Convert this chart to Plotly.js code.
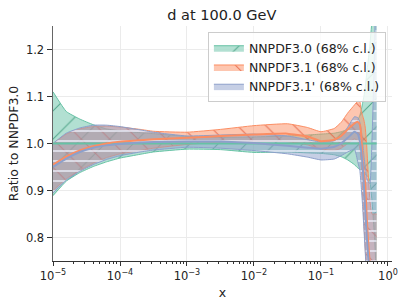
<!DOCTYPE html>
<html>
<head>
<meta charset="utf-8">
<script src="https://cdn.plot.ly/plotly-3.0.1.min.js"></script>
<style>html,body{margin:0;padding:0;background:#fff;}#chart{width:407px;height:306px;}</style>
</head>
<body>
<div id="chart"></div>
<script>
// x grid (momentum fraction)
const xGrid = [1e-5, 1.58e-5, 2.51e-5, 3.98e-5, 6.31e-5, 1e-4, 2e-4, 3.16e-4, 1e-3, 3.16e-3,
  1e-2, 3.16e-2, 6.31e-2, 0.1, 0.158, 0.2, 0.251, 0.316, 0.355, 0.38,
  0.398, 0.417, 0.437, 0.457, 0.479, 0.501, 0.537, 0.575, 0.631, 0.676];

// NNPDF3.0 (reference)
const nn30Central = [1,1,1,1,1,1,1,1,1,1, 1,1,1,1,1,1,1,1,1,1, 1,1,1,1,1,1,1,1,1,1];
const nn30Upper = [1.11, 1.068, 1.052, 1.040, 1.031, 1.027, 1.023, 1.021, 1.015, 1.013,
  1.014, 1.016, 1.018, 1.02, 1.022, 1.025, 1.03, 1.04, 1.05, 1.06,
  1.07, 1.085, 1.10, 1.12, 1.145, 1.17, 1.21, 1.26, 1.35, 1.45];
const nn30Lower = [0.889, 0.92, 0.938, 0.951, 0.961, 0.969, 0.977, 0.982, 0.988, 0.987,
  0.981, 0.982, 0.98, 0.979, 0.976, 0.972, 0.965, 0.955, 0.948, 0.945,
  0.942, 0.94, 0.937, 0.935, 0.932, 0.93, 0.92, 0.88, 0.8, 0.7];

// NNPDF3.1
const nn31Central = [0.955, 0.972, 0.985, 0.994, 1.0, 1.004, 1.007, 1.009, 1.012, 1.016,
  1.019, 1.021, 1.015, 1.005, 1.008, 1.016, 1.03, 1.043, 1.046, 1.04,
  1.02, 0.97, 0.935, 0.915, 0.85, 0.8, 0.74, 0.68, 0.6, 0.55];
const nn31Upper = [1.0, 1.02, 1.031, 1.036, 1.037, 1.035, 1.03, 1.026, 1.024, 1.03,
  1.038, 1.042, 1.034, 1.025, 1.032, 1.045, 1.065, 1.082, 1.09, 1.089,
  1.07, 1.06, 1.05, 1.035, 1.0, 0.95, 0.88, 0.85, 0.85, 0.85];
const nn31Lower = [0.9, 0.925, 0.943, 0.958, 0.97, 0.978, 0.985, 0.99, 0.998, 1.003,
  1.005, 1.004, 0.997, 0.988, 0.985, 0.99, 1.0, 1.01, 1.005, 0.99,
  0.96, 0.9, 0.83, 0.78, 0.72, 0.66, 0.6, 0.55, 0.5, 0.45];

// NNPDF3.1'
const nn31pCentral = [0.95, 0.968, 0.982, 0.991, 0.996, 0.999, 1.002, 1.003, 1.004, 1.004,
  1.001, 0.995, 0.991, 0.989, 0.993, 1.0, 1.012, 1.025, 1.02, 1.005,
  0.985, 0.955, 0.91, 0.86, 0.81, 0.77, 0.72, 0.68, 0.62, 0.58];
const nn31pUpper = [1.0, 1.022, 1.033, 1.039, 1.039, 1.036, 1.029, 1.024, 1.016, 1.018,
  1.02, 1.016, 1.008, 1.003, 1.006, 1.016, 1.035, 1.057, 1.055, 1.045,
  1.03, 1.005, 0.975, 0.95, 0.93, 0.92, 0.915, 1.0, 1.2, 1.5];
const nn31pLower = [0.895, 0.922, 0.941, 0.955, 0.966, 0.974, 0.982, 0.986, 0.992, 0.99,
  0.985, 0.978, 0.971, 0.965, 0.967, 0.974, 0.982, 0.988, 0.96, 0.943,
  0.91, 0.87, 0.82, 0.77, 0.72, 0.68, 0.63, 0.58, 0.53, 0.48];

const seriesNames = ['NNPDF3.0 (68% c.l.)', 'NNPDF3.1 (68% c.l.)', "NNPDF3.1' (68% c.l.)"];
const xTickVals = [1e-5, 1e-4, 1e-3, 1e-2, 1e-1, 1];
const xTickText = ['10<sup>−5</sup>', '10<sup>−4</sup>', '10<sup>−3</sup>', '10<sup>−2</sup>', '10<sup>−1</sup>', '10<sup>0</sup>'];
const yTickVals = [0.8, 0.9, 1.0, 1.1, 1.2];
const yTickText = ['0.8', '0.9', '1.0', '1.1', '1.2'];

const styles = [
  {line: '#66c2a5', fill: 'rgba(102,194,165,0.5)', hatch: 'rgba(70,160,130,0.9)', shape: '/', size: 20, sol: 0.05},
  {line: '#fc8d62', fill: 'rgba(252,141,98,0.5)', hatch: 'rgba(230,100,70,0.9)', shape: '\\', size: 20, sol: 0.05},
  {line: '#8da0cb', fill: 'rgba(141,160,203,0.5)', hatch: 'rgba(235,238,250,0.95)', shape: '-', size: 10, sol: 0.15}
];
const bands = [
  [nn30Upper, nn30Lower, nn30Central],
  [nn31Upper, nn31Lower, nn31Central],
  [nn31pUpper, nn31pLower, nn31pCentral]
];

const traces = [];
const lineShape = {shape: 'spline', smoothing: 0.4};
bands.forEach((b, i) => {
  const s = styles[i];
  traces.push({x: xGrid, y: b[0], type: 'scatter', mode: 'lines', showlegend: false, hoverinfo: 'skip',
    line: Object.assign({color: s.line, width: 1}, lineShape)});
  traces.push({x: xGrid, y: b[1], type: 'scatter', mode: 'lines', name: seriesNames[i], fill: 'tonexty',
    fillcolor: s.fill,
    fillpattern: {shape: s.shape, bgcolor: s.fill, fgcolor: s.hatch, size: s.size, solidity: s.sol, fillmode: 'replace'},
    line: Object.assign({color: s.line, width: 1}, lineShape)});
});
bands.forEach((b, i) => {
  const s = styles[i];
  traces.push({x: xGrid, y: b[2], type: 'scatter', mode: 'lines', showlegend: false, hoverinfo: 'skip',
    line: Object.assign({color: s.line, width: 2}, lineShape)});
});

const font = 'DejaVu Sans, sans-serif';
const layout = {
  width: 407, height: 306,
  margin: {l: 53, r: 15, t: 26, b: 45, pad: 0},
  paper_bgcolor: '#fff', plot_bgcolor: '#fff',
  font: {family: font, color: '#222', size: 11.5},
  title: {text: 'd at 100.0 GeV', font: {family: font, size: 14.5, color: '#222'},
    x: 0.545, xanchor: 'center', y: 0.952, yanchor: 'middle'},
  showlegend: true,
  legend: {x: 0.982, y: 0.974, xanchor: 'right', yanchor: 'top', traceorder: 'normal',
    bgcolor: 'rgba(255,255,255,0.8)', bordercolor: '#cccccc', borderwidth: 1,
    font: {family: font, size: 12.5, color: '#222'}, tracegroupgap: 0, itemwidth: 30},
  xaxis: {type: 'log', range: [-5, 0.06], tickvals: xTickVals, ticktext: xTickText,
    showgrid: true, gridcolor: '#ebebeb', gridwidth: 1, zeroline: false,
    showline: true, linecolor: '#333', linewidth: 1,
    ticks: 'outside', ticklen: 4, tickcolor: '#333', tickfont: {size: 11.5},
    minor: {ticks: 'outside', ticklen: 2, tickcolor: '#333', dtick: 'D1', showgrid: false},
    title: {text: 'x', font: {size: 12.5}, standoff: 6}},
  yaxis: {range: [0.75, 1.25], tickvals: yTickVals, ticktext: yTickText,
    showgrid: true, gridcolor: '#ebebeb', gridwidth: 1, zeroline: false,
    showline: true, linecolor: '#666', linewidth: 1.5,
    ticks: 'outside', ticklen: 5, tickcolor: '#333', tickfont: {size: 11.5},
    title: {text: 'Ratio to NNPDF3.0', font: {size: 12.5}, standoff: 4}}
};

Plotly.newPlot('chart', traces, layout, {staticPlot: true, displayModeBar: false});
</script>
</body>
</html>
